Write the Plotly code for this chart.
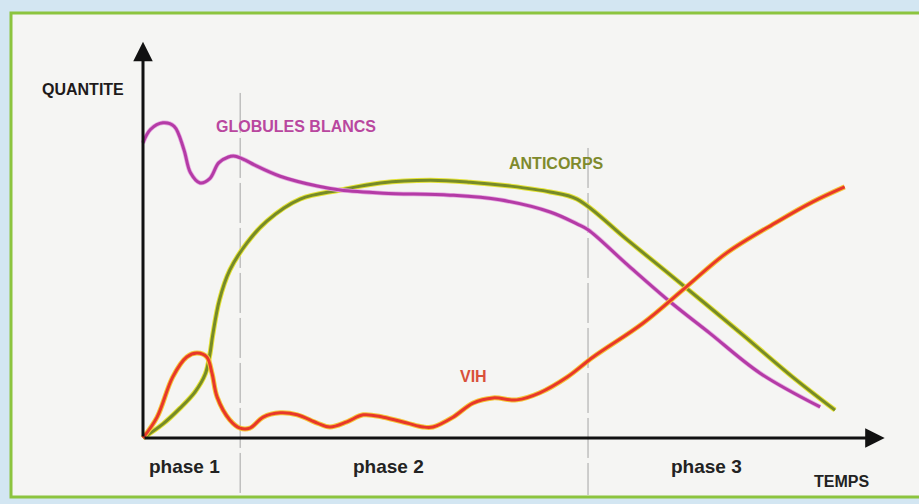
import plotly.graph_objects as go

# ---- data (time in arbitrary units, quantity in arbitrary units) ----
gb_t = [0, 0.10, 0.27, 0.42, 0.55, 0.64, 0.77, 0.90, 1.02, 1.15, 1.24, 1.38, 1.50,
        1.85, 2.35, 2.66, 3.24, 4.14, 4.81, 5.49, 5.85, 6.00, 6.53, 7.11, 7.64, 8.32, 9.13]
gb_q = [7.51, 7.85, 8.02, 7.93, 7.35, 6.75, 6.49, 6.60, 7.00, 7.15, 7.17, 7.07, 6.95,
        6.66, 6.41, 6.31, 6.23, 6.18, 6.06, 5.75, 5.45, 5.30, 4.41, 3.46, 2.67, 1.65, 0.79]

ac_t = [0, 0.27, 0.50, 0.70, 0.84, 0.90, 0.94, 1.03, 1.17, 1.40, 1.67, 2.12, 2.66,
        3.20, 3.87, 4.41, 4.95, 5.49, 5.85, 6.53, 7.31, 8.09, 8.76, 9.33]
ac_q = [0, 0.36, 0.76, 1.17, 1.63, 2.11, 2.62, 3.51, 4.27, 4.96, 5.52, 6.08, 6.31,
        6.49, 6.56, 6.51, 6.41, 6.26, 6.08, 5.04, 3.84, 2.62, 1.55, 0.71]

vih_t = [0, 0.19, 0.40, 0.59, 0.73, 0.86, 0.93, 1.00, 1.17, 1.31, 1.44, 1.62, 1.85,
         2.08, 2.35, 2.52, 2.75, 2.97, 3.24, 3.56, 3.78, 3.91, 4.18, 4.45, 4.72, 5.04,
         5.35, 5.72, 6.07, 6.74, 7.31, 7.87, 8.55, 9.03, 9.46]
vih_q = [0, 0.53, 1.55, 2.06, 2.16, 2.06, 1.65, 1.04, 0.46, 0.25, 0.25, 0.53, 0.64,
         0.59, 0.38, 0.28, 0.41, 0.59, 0.53, 0.38, 0.28, 0.28, 0.53, 0.89, 1.02, 0.97,
         1.15, 1.55, 2.06, 2.92, 3.82, 4.71, 5.50, 6.01, 6.39]

phase_bounds = [1.31, 6.0]
phase_labels = ["phase 1", "phase 2", "phase 3"]
series_labels = ["GLOBULES BLANCS", "ANTICORPS", "VIH"]

# ---- page geometry ----
W, H = 919, 504
ORIGIN_X, ORIGIN_Y = 143, 438       # pixel of (0, 0)
PX_T, PX_Q = 74.17, 39.3            # pixels per unit
X_TIP, Y_TIP = 10.0, 10.08          # axis arrow tips (data units)


def paper(px, py):
    return px / W, 1 - py / H


fig = go.Figure()


def outlined(t, q, under, over, w_under, w_over, smooth=1.0):
    fig.add_trace(go.Scatter(x=t, y=q, mode="lines",
                             line=dict(color=under, width=w_under, shape="spline", smoothing=smooth),
                             hoverinfo="skip", showlegend=False))
    fig.add_trace(go.Scatter(x=t, y=q, mode="lines",
                             line=dict(color=over, width=w_over, shape="spline", smoothing=smooth),
                             showlegend=False))


outlined(ac_t, ac_q, "#e4e236", "#768a28", 5, 3)
outlined(gb_t, gb_q, "#e6a8e0", "#b43ba6", 4.5, 3)
outlined(vih_t, vih_q, "#f4c43a", "#e8372a", 5, 3)

shapes = []
# framed panel
x0, y1 = paper(11, 13)
_, y0 = paper(0, 497)
shapes.append(dict(type="rect", xref="paper", yref="paper", x0=x0, x1=1.02, y0=y0, y1=y1,
                   fillcolor="#f5f5f3", line=dict(color="#8cc43e", width=3), layer="below"))
# phase dividers
div_tops = [8.78, 7.38]
for b, top in zip(phase_bounds, div_tops):
    shapes.append(dict(type="line", xref="x", yref="y", x0=b, x1=b, y0=top, y1=-1.45,
                       line=dict(color="#a4a4a4", width=1, dash="40px,5px"), layer="below"))

annotations = []
# axis arrows
annotations.append(dict(x=X_TIP, y=0, ax=0, ay=0, xref="x", yref="y", axref="x", ayref="y",
                        text="", showarrow=True, arrowhead=2, arrowsize=1.3, arrowwidth=3,
                        arrowcolor="#111111"))
annotations.append(dict(x=0, y=Y_TIP, ax=0, ay=0, xref="x", yref="y", axref="x", ayref="y",
                        text="", showarrow=True, arrowhead=2, arrowsize=1.3, arrowwidth=3,
                        arrowcolor="#111111"))

FONT = "Liberation Sans"


def label(text, px, py, color, size):
    x, y = paper(px, py)
    annotations.append(dict(x=x, y=y, xref="paper", yref="paper", text=f"<b>{text}</b>",
                            showarrow=False, xanchor="center", yanchor="middle",
                            font=dict(family=FONT, size=size, color=color)))


label("QUANTITE", 83, 89, "#1e1a1a", 16)
label(series_labels[0], 296, 126, "#b9479f", 16)
label(series_labels[1], 556, 164, "#7f8a2c", 16)
label(series_labels[2], 473, 376, "#d9503a", 16)
for txt, cx in zip(phase_labels, [184, 388, 706]):
    label(txt, cx, 466, "#222222", 19)
label("TEMPS", 841, 481, "#222222", 16)

fig.update_layout(
    width=W, height=H,
    margin=dict(l=0, r=0, t=0, b=0),
    paper_bgcolor="#d3e6f2",
    plot_bgcolor="rgba(0,0,0,0)",
    shapes=shapes,
    annotations=annotations,
    xaxis=dict(range=[-ORIGIN_X / PX_T, (W - ORIGIN_X) / PX_T], visible=False, fixedrange=True),
    yaxis=dict(range=[(ORIGIN_Y - H) / PX_Q, ORIGIN_Y / PX_Q], visible=False, fixedrange=True),
    showlegend=False,
)

fig.write_html("out.html")
